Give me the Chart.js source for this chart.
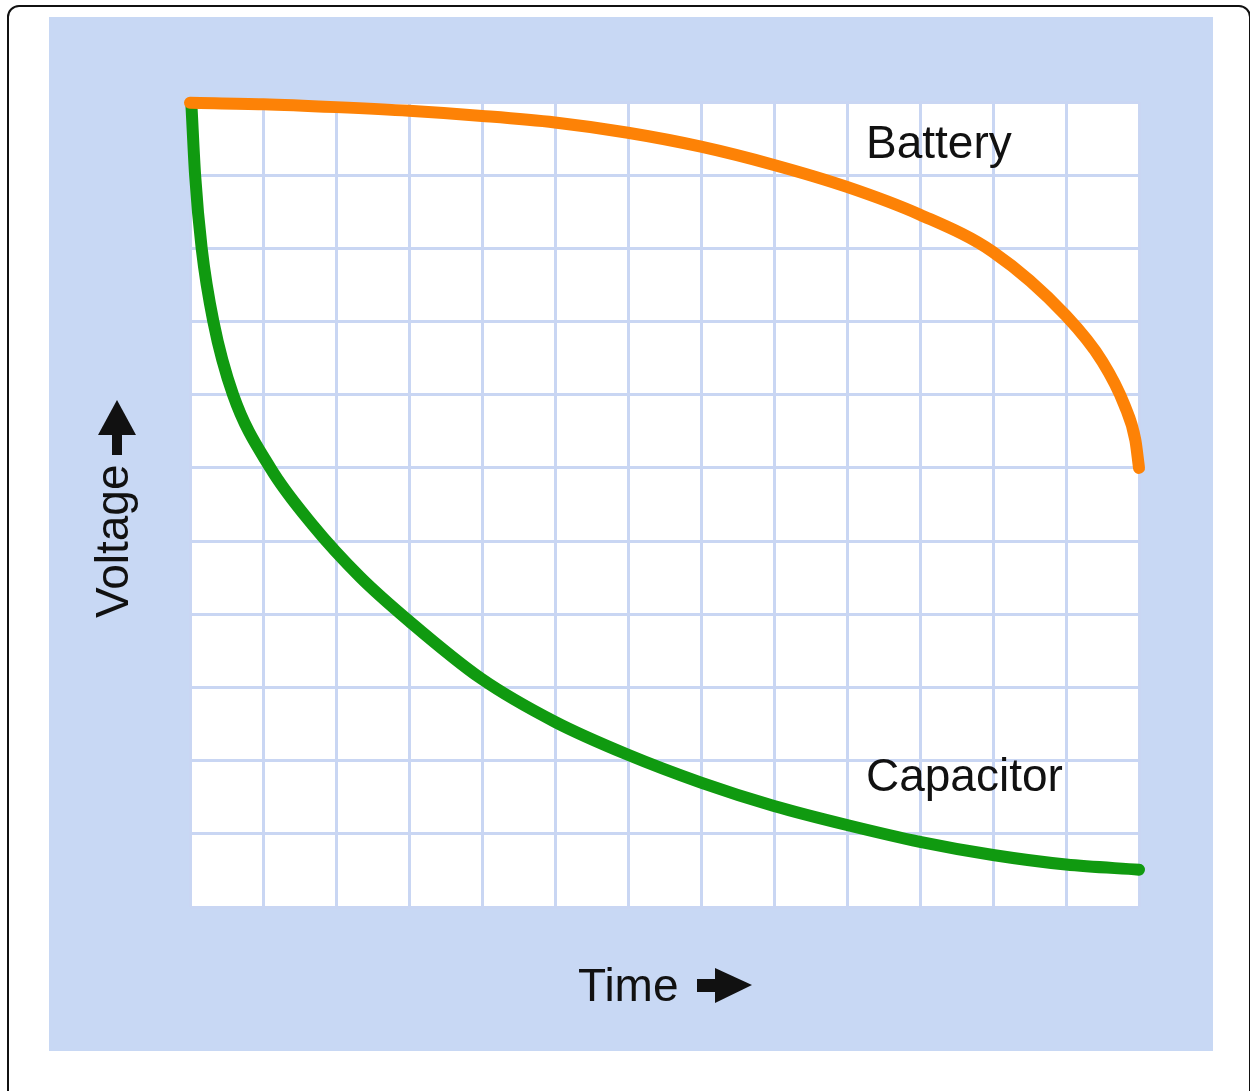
<!DOCTYPE html>
<html>
<head>
<meta charset="utf-8">
<title>Battery vs Capacitor discharge</title>
<script src="https://cdn.jsdelivr.net/npm/chart.js@4/dist/chart.umd.min.js"></script>
<style>
    html, body { margin: 0; padding: 0; background: #fff; }
    body { width: 1250px; height: 1091px; position: relative; overflow: hidden; }
    #frame {
        position: absolute; left: 7px; top: 5px;
        width: 1240px; height: 1200px;
        border: 2px solid #111; border-radius: 12px;
    }
    #panel {
        position: absolute; left: 49px; top: 17px;
        width: 1164px; height: 1034px;
        background: #c8d8f4;
    }
</style>
</head>
<body>
<div id="frame"></div>
<div id="panel"><canvas id="dischargeChart"></canvas></div>
<script>
// time axis is 13 grid squares, voltage axis is 11
const timeTicks = [0, 13];
const voltTicks = [0, 11];

const batteryTime = [0, 1, 2, 3, 4, 5, 6, 7, 8, 9, 10, 11, 12, 12.5, 12.8, 12.95, 13];
const batteryVolt = [10.99, 10.97, 10.93, 10.88, 10.81, 10.72, 10.58, 10.39, 10.14, 9.84, 9.46, 8.95, 8.08, 7.45, 6.86, 6.38, 6.0];

const capTime = [0.02, 0.07, 0.16, 0.32, 0.59, 1.10, 1.68, 2.33, 3.01, 3.99, 5.0, 6.0, 7.0, 8.0, 9.0, 10.0, 11.0, 12.0, 13.0];
const capVolt = [10.95, 10.0, 9.0, 8.0, 7.0, 6.0, 5.22, 4.51, 3.9, 3.12, 2.53, 2.08, 1.7, 1.38, 1.12, 0.89, 0.71, 0.58, 0.51];

const seriesNames = ['Battery', 'Capacitor'];

const FONT = '46px "Liberation Sans", Arial, sans-serif';

function toPoints(xs, ys) {
    return xs.map((x, i) => ({ x: x, y: ys[i] }));
}

// white plotting area under the grid
const plotBackground = {
    id: 'plotBackground',
    beforeDraw(chart) {
        const { ctx, chartArea: a } = chart;
        ctx.save();
        ctx.fillStyle = '#ffffff';
        ctx.fillRect(a.left, a.top, a.right - a.left, a.bottom - a.top);
        ctx.restore();
    }
};

// curve labels, axis captions and the block arrows
const captions = {
    id: 'captions',
    afterDraw(chart) {
        const ctx = chart.ctx;
        const xs = chart.scales.x;
        const ys = chart.scales.y;
        ctx.save();
        ctx.fillStyle = '#111';
        ctx.font = FONT;
        ctx.textBaseline = 'alphabetic';
        ctx.textAlign = 'left';

        ctx.fillText(seriesNames[0], xs.getPixelForValue(9.26), ys.getPixelForValue(10.23));
        ctx.fillText(seriesNames[1], xs.getPixelForValue(9.26), ys.getPixelForValue(1.585));

        // Time ->
        ctx.fillText('Time', 529, 984);
        ctx.fillRect(648, 962, 21, 13);
        ctx.beginPath();
        ctx.moveTo(666, 951);
        ctx.lineTo(703, 968);
        ctx.lineTo(666, 986);
        ctx.closePath();
        ctx.fill();

        // Voltage ^
        ctx.save();
        ctx.translate(79, 601);
        ctx.rotate(-Math.PI / 2);
        ctx.fillText('Voltage', 0, 0);
        ctx.restore();
        ctx.fillRect(63, 414, 10, 24);
        ctx.beginPath();
        ctx.moveTo(68, 383);
        ctx.lineTo(87, 418);
        ctx.lineTo(49, 418);
        ctx.closePath();
        ctx.fill();

        ctx.restore();
    }
};

const gridStyle = { color: '#c9d6f3', lineWidth: 3, drawTicks: false };

new Chart(document.getElementById('dischargeChart'), {
    type: 'line',
    data: {
        datasets: [
            {
                label: seriesNames[0],
                data: toPoints(batteryTime, batteryVolt),
                borderColor: '#fd8206',
                borderWidth: 12,
                borderCapStyle: 'round',
                borderJoinStyle: 'round',
                cubicInterpolationMode: 'monotone',
                pointRadius: 0,
                fill: false,
                clip: false,
                order: 0
            },
            {
                label: seriesNames[1],
                data: toPoints(capTime, capVolt),
                borderColor: '#109a10',
                borderWidth: 12,
                borderCapStyle: 'round',
                borderJoinStyle: 'round',
                cubicInterpolationMode: 'monotone',
                pointRadius: 0,
                fill: false,
                clip: false,
                order: 1
            }
        ]
    },
    options: {
        responsive: true,
        maintainAspectRatio: false,
        animation: false,
        layout: { padding: { left: 141, top: 85, right: 74, bottom: 144 } },
        plugins: {
            legend: { display: false },
            tooltip: { enabled: false }
        },
        scales: {
            x: {
                type: 'linear',
                min: timeTicks[0],
                max: timeTicks[1],
                ticks: { display: false, stepSize: 1 },
                grid: gridStyle,
                border: { display: false }
            },
            y: {
                type: 'linear',
                min: voltTicks[0],
                max: voltTicks[1],
                ticks: { display: false, stepSize: 1 },
                grid: gridStyle,
                border: { display: false }
            }
        }
    },
    plugins: [plotBackground, captions]
});
</script>
</body>
</html>
